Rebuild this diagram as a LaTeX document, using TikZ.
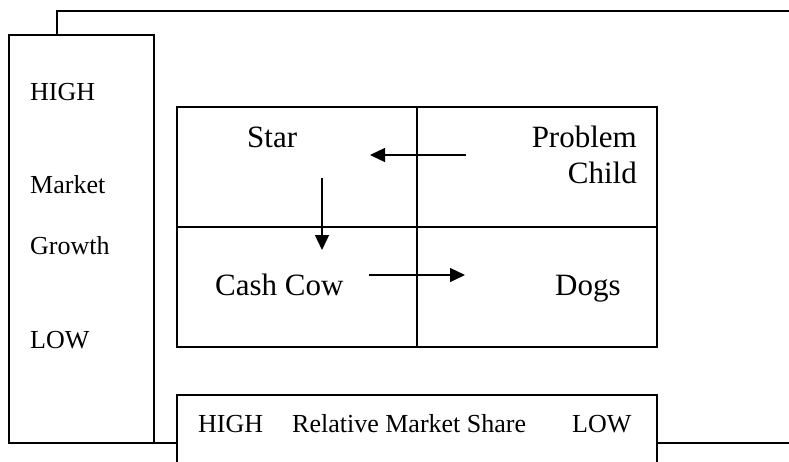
\documentclass[tikz,border=0pt]{standalone}
\usepackage{fontspec}
\setmainfont{Liberation Serif}
\usetikzlibrary{arrows.meta}
\begin{document}
\begin{tikzpicture}[x=1pt,y=-1pt,
  frame/.style={draw=black,line width=1.5pt},
  axislabel/.style={font=\fontsize{26}{30}\selectfont,inner sep=0pt},
  celllabel/.style={font=\fontsize{31}{36}\selectfont,inner sep=0pt},
  flow/.style={line width=1.3pt,-{Triangle[length=15pt,width=14pt]}}]
\useasboundingbox (0,0) rectangle (789,461);

% outer frame pieces
\draw[frame] (57,35) -- (57,11) -- (791,11);
\draw[frame] (9,35) rectangle (154,443);
\draw[frame] (154,443) -- (177,443);
\draw[frame] (657,443) -- (791,443);

% growth-share matrix
\draw[frame] (177,107) rectangle (657,347);
\draw[frame] (417,107) -- (417,347);
\draw[frame] (177,227) -- (657,227);

% market share axis box, open at the bottom
\draw[frame] (177,463) -- (177,395) -- (657,395) -- (657,463);

% market growth axis labels
\node[axislabel,anchor=base west] (gHigh) at (30,100) {HIGH};
\node[axislabel,anchor=base west] (gMarket) at (30,193) {Market};
\node[axislabel,anchor=base west] (gGrowth) at (30,254) {Growth};
\node[axislabel,anchor=base west] (gLow) at (30,348) {LOW};

% relative market share axis labels
\node[axislabel,anchor=base west] (sHigh) at (198,432) {HIGH};
\node[axislabel,anchor=base west] (sTitle) at (292,432) {Relative Market Share};
\node[axislabel,anchor=base west] (sLow) at (572,432) {LOW};

% quadrant labels
\node[celllabel,anchor=base west] (star) at (247,147) {Star};
\node[celllabel,anchor=base east] (problem) at (637,147) {Problem};
\node[celllabel,anchor=base east] (child) at (637,183) {Child};
\node[celllabel,anchor=base west] (cow) at (215,295) {Cash Cow};
\node[celllabel,anchor=base west] (dogs) at (555,295) {Dogs};

% movement between quadrants
\coordinate (pcTail) at (466,155);
\coordinate (starTip) at (370,155);
\coordinate (starTail) at (322,178);
\coordinate (cowTip) at (322,250);
\coordinate (cowTail) at (369,275);
\coordinate (dogsTip) at (465,275);
\draw[flow] (pcTail) -- (starTip);
\draw[flow] (starTail) -- (cowTip);
\draw[flow] (cowTail) -- (dogsTip);
\end{tikzpicture}
\end{document}
